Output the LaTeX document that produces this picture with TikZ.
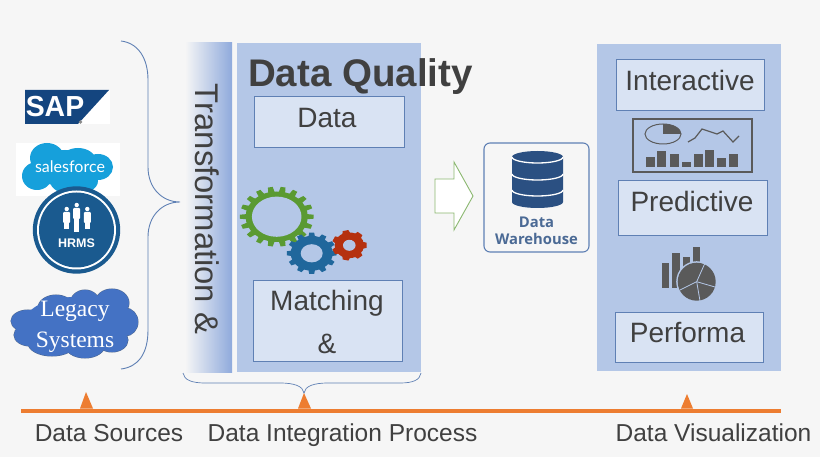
\documentclass[tikz,border=0pt]{standalone}
\usepackage{fontspec}
\setmainfont{Liberation Sans}
\newfontfamily\serifpart{Liberation Serif}
\newfontfamily\dwpart{Open Sans}
\newfontfamily\sfpart{Lato}
\usepackage{xcolor}
\definecolor{pagebg}{HTML}{F6F6F6}
\definecolor{panelblue}{HTML}{B4C7E7}
\definecolor{fadeblue}{HTML}{8FAADC}
\definecolor{boxblue}{HTML}{D9E3F3}
\definecolor{edgeblue}{HTML}{5F80B4}
\definecolor{inkgray}{HTML}{404040}
\definecolor{icongray}{HTML}{5A5A5A}
\definecolor{barorange}{HTML}{ED7D31}
\definecolor{sapblue}{HTML}{14457F}
\definecolor{cloudsf}{HTML}{16A0DB}
\definecolor{hrmsblue}{HTML}{1A5A8F}
\definecolor{cloudleg}{HTML}{4472C4}
\definecolor{dbblue}{HTML}{2B5082}
\definecolor{geargreen}{HTML}{5A9A32}
\definecolor{gearblue}{HTML}{20679C}
\definecolor{gearred}{HTML}{B5310F}
\tikzset{
  panel/.style={fill=panelblue,draw=none},
  labelbox/.style={draw=edgeblue,fill=boxblue,line width=0.8pt},
  boxtext/.style={text=inkgray,font=\fontsize{28}{30}\selectfont,inner sep=0pt},
  bottomtext/.style={text=inkgray,font=\fontsize{24.5}{26}\selectfont,inner sep=0pt,anchor=base},
  bracket/.style={draw=edgeblue,line width=0.9pt},
  marker/.style={fill=barorange,draw=none},
}
% one gear: x, y, x radius, y radius, teeth, colour, hole size
\newcommand{\gearshape}[7]{
\begin{scope}[shift={(#1,#2)},xscale=#3,yscale=#4]
\pgfmathsetmacro{\stepang}{360/#5}
\pgfmathsetmacro{\wa}{\stepang*0.32}
\pgfmathsetmacro{\wb}{\stepang*0.19}
\fill[#6] (0,0) circle (0.84);
\foreach \k in {1,...,#5} {
\pgfmathsetmacro{\ang}{\k*\stepang}
\fill[#6] (\ang-\wa:0.8) -- (\ang-\wb:1) -- (\ang+\wb:1) -- (\ang+\wa:0.8) -- cycle;
}
\fill[panelblue] (0,0) circle (#7);
\end{scope}
}
\begin{document}
\begin{tikzpicture}[x=1pt,y=-1pt]
\path[use as bounding box,fill=pagebg] (0,0) rectangle (820,457);
% SAP logo
\fill[white] (25,90) rectangle (110,124);
\fill[sapblue] (25,90) -- (109,90) -- (78,124) -- (25,124) -- cycle;
\node (sap) at (55,106.5) [text=white,font=\fontsize{29}{30}\bfseries\selectfont,inner sep=0pt,xscale=0.98] {SAP};
\fill[icongray!70] (80.5,122) circle (1.8);
% salesforce logo
\fill[white] (16,143) rectangle (120,196);
\foreach \cx/\cy/\rx/\ry in {37/176/15/14, 47/158/17/15, 78/161/18/13, 98/167/15/13, 74/181/24/14, 65/168/35/18} {
\fill[cloudsf] (\cx,\cy) ellipse [x radius=\rx,y radius=\ry];
}
\node (salesforce) at (70,167) [text=white,font=\sfpart\fontsize{16}{18}\selectfont,inner sep=0pt] {salesforce};
% HRMS logo
\fill[hrmsblue] (76.5,230) circle (43.7);
\fill[white] (76.5,230) circle (39.5);
\fill[hrmsblue] (76.5,230) circle (37.5);
\foreach \px/\ptop/\pbot in {66.7/207/229, 76.7/203/232, 87.3/207/229} {
\fill[white] (\px,\ptop+2) circle (2.2);
\fill[white,rounded corners=1pt] (\px-3.5,\ptop+5) rectangle (\px+3.5,\ptop+16);
\fill[white] (\px-2.5,\ptop+12) rectangle (\px+2.5,\pbot);
}
\node (hrms) at (76.5,243) [text=white,font=\fontsize{12.5}{14}\bfseries\selectfont,inner sep=0pt] {HRMS};
% legacy cloud
\foreach \cx/\cy/\rx/\ry in {28/321/17/11, 56/308/18/13, 85/304/15/14, 112/303/17/14, 125/322/13/14, 112/340/16/12, 85/345/20/13, 52/343/24/13, 30/335/16/11} {
\draw[edgeblue!80!black,line width=1pt] (\cx,\cy) ellipse [x radius=\rx,y radius=\ry];
}
\foreach \cx/\cy/\rx/\ry in {28/321/17/11, 56/308/18/13, 85/304/15/14, 112/303/17/14, 125/322/13/14, 112/340/16/12, 85/345/20/13, 52/343/24/13, 30/335/16/11, 75/322/50/25} {
\fill[cloudleg] (\cx,\cy) ellipse [x radius=\rx,y radius=\ry];
}
\node (legacy) at (75,311) [text=white,font=\serifpart\fontsize{23.5}{26}\selectfont,inner sep=0pt] {Legacy};
\node (systems) at (75,342.5) [text=white,font=\serifpart\fontsize{23.5}{26}\selectfont,inner sep=0pt] {Systems};
% big brace
\draw[bracket] (121,41) .. controls (138,43) and (148,58) .. (148,80) -- (148,167)
  .. controls (148,188) and (162,202) .. (180,202) .. controls (162,202) and (148,216) .. (148,237)
  -- (148,330) .. controls (148,354) and (138,367) .. (121,369);
% transformation panel
\fill[left color=pagebg,right color=fadeblue] (185,43) rectangle (232,372);
\node (transform) at (207,209) [rotate=-90,text=inkgray,font=\fontsize{32.8}{34}\selectfont,inner sep=0pt] {Transformation \&};
% data quality panel
\fill[panel] (237,43) rectangle (421,372);
\node (quality) at (360.5,77) [text=inkgray,font=\fontsize{38.5}{40}\bfseries\selectfont,inner sep=0pt] {Data Quality};
\draw[labelbox] (254,96) rectangle (404,147);
\node (data) at (327,118) [boxtext] {Data};
\draw[labelbox] (253,280) rectangle (402,361);
\node (matching) at (327,303) [boxtext] {Matching};
\node (amp) at (327,344) [boxtext] {\&};
% the gears
\gearshape{276.7}{216.7}{37}{30}{18}{geargreen}{0.67}
\gearshape{311.7}{253.3}{25}{20.7}{12}{gearblue}{0.44}
\gearshape{349.3}{245.3}{17.5}{15.3}{7}{gearred}{0.36}
% lower brace
\draw[bracket,line width=0.7pt] (183,373) .. controls (184,380) and (192,383) .. (205,383) -- (280,383)
  .. controls (294,383) and (303,386) .. (304,393) .. controls (305,386) and (314,383) .. (328,383)
  -- (400,383) .. controls (413,383) and (420,380) .. (421,373);
% arrow
\filldraw[draw=geargreen!70!white,fill=white,line width=0.9pt] (435,179) -- (454,179) -- (454,162) -- (473,196)
  -- (454,230) -- (454,213) -- (435,213) -- cycle;
% data warehouse
\draw[draw=edgeblue,fill=pagebg,line width=1.1pt,rounded corners=6pt] (484,143) rectangle (589,252);
\fill[dbblue] (512,157) arc[start angle=180,end angle=360,x radius=25.5,y radius=6] -- (563,202)
  arc[start angle=0,end angle=180,x radius=25.5,y radius=6] -- cycle;
\foreach \sy in {157,174,190} {
\draw[white,line width=1.3pt] (512,\sy) arc[start angle=180,end angle=0,x radius=25.5,y radius=6];
}
\node (warehouse) at (536.5,231) [text=dbblue!85!white,align=center,font=\dwpart\fontsize{14.8}{17}\selectfont\bfseries,inner sep=0pt] {Data\\Warehouse};
% visualization panel
\fill[panel] (597,44) rectangle (781,371);
\draw[labelbox] (616,59) rectangle (764,110);
\node (interactive) at (690,80.5) [boxtext] {Interactive};
\draw[labelbox] (618,180) rectangle (767,235);
\node (predictive) at (692,201.5) [boxtext] {Predictive};
\draw[labelbox] (615,312) rectangle (763,362);
\node (performa) at (687.5,333) [boxtext] {Performa};
% dashboard icon
\draw[icongray,line width=1.6pt] (633,119) rectangle (752,172);
\draw[icongray,line width=1pt] (663,134) ellipse [x radius=18,y radius=10];
\fill[icongray] (663,134) -- (663,124) arc[start angle=270,end angle=360,x radius=18,y radius=10] -- cycle;
\draw[icongray,line width=1.2pt] (688,142) -- (695,138) -- (702,129) -- (717,134) -- (723,131) -- (733,142) -- (739,136);
\foreach \bl/\bt in {646/157, 657.3/151, 670.3/154, 682/162, 693.7/154, 705.3/150, 717/158, 728.7/154} {
\fill[icongray] (\bl,\bt) rectangle (\bl+9,167);
}
% chart icon
\foreach \bl/\bt/\bb in {662/263/288, 672.3/253/288, 682.7/257/288, 692.7/247/265} {
\fill[icongray] (\bl,\bt) rectangle (\bl+7.3,\bb);
}
\fill[panelblue] (696.7,281.7) circle (20.5);
\fill[icongray] (696.7,281.7) circle (19);
\foreach \ex/\ey in {705/263, 715/287, 700/301, 680/290} {
\draw[panelblue,line width=0.8pt] (696.7,281.7) -- (\ex,\ey);
}
% the time line
\fill[barorange] (21,408.5) rectangle (781,412.5);
\fill[marker] (80,408.5) -- (86,392) -- (93,408.5) -- cycle;
\fill[marker] (298,408.5) -- (304,393) -- (311,408.5) -- cycle;
\fill[marker] (681,408.5) -- (687,394) -- (693,408.5) -- cycle;
\node (sources) at (109,441.5) [bottomtext] {Data Sources};
\node (integration) at (342.5,441.5) [bottomtext] {Data Integration Process};
\node (visual) at (713.5,441.5) [bottomtext] {Data Visualization};
\end{tikzpicture}
\end{document}
